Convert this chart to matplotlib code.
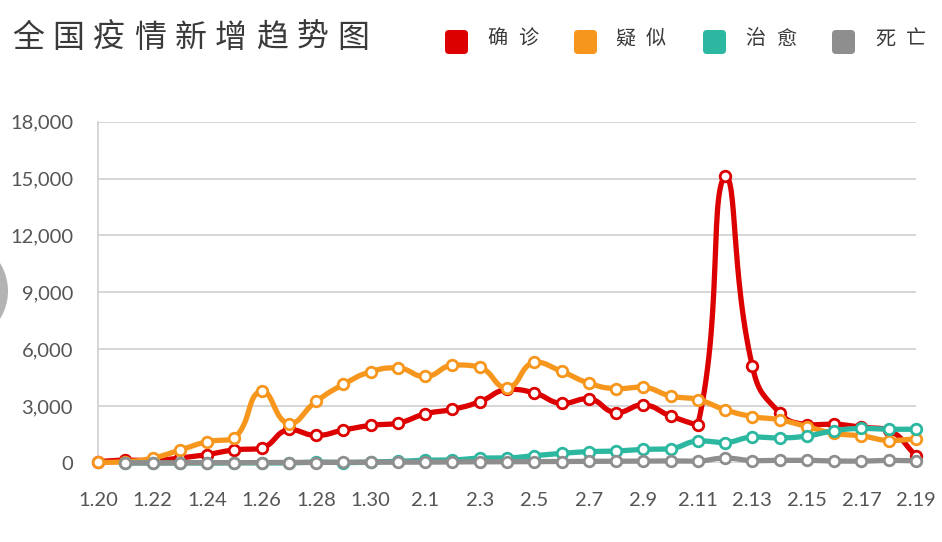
import matplotlib
matplotlib.use("Agg")
import matplotlib.pyplot as plt
import numpy as np
from matplotlib.patches import FancyBboxPatch, Circle

plt.rcParams['font.family'] = ['Noto Sans CJK SC', 'DejaVu Sans']

dates = ["1.20", "1.21", "1.22", "1.23", "1.24", "1.25", "1.26", "1.27", "1.28", "1.29",
         "1.30", "1.31", "2.1", "2.2", "2.3", "2.4", "2.5", "2.6", "2.7", "2.8",
         "2.9", "2.10", "2.11", "2.12", "2.13", "2.14", "2.15", "2.16", "2.17", "2.18", "2.19"]
confirmed = [77, 149, 131, 259, 444, 688, 769, 1771, 1459, 1737, 1982, 2102, 2590, 2829, 3235,
             3887, 3694, 3143, 3399, 2656, 3062, 2478, 2015, 15152, 5090, 2641, 2009, 2048,
             1886, 1749, 394]
suspected = [27, 60, 257, 680, 1118, 1309, 3806, 2077, 3248, 4148, 4812, 5019, 4562, 5173,
             5072, 3971, 5328, 4833, 4214, 3916, 4008, 3536, 3342, 2807, 2450, 2277, 1918,
             1563, 1432, 1185, 1277]
cured = [None, 0, 0, 0, 3, 11, 2, 9, 43, 21, 47, 85, 147, 157, 262, 261, 387, 510, 600, 632,
         716, 744, 1171, 1081, 1373, 1323, 1425, 1701, 1824, 1779, 1779]
deaths = [None, 3, 8, 8, 16, 15, 24, 26, 26, 38, 43, 46, 45, 57, 64, 65, 73, 73, 86, 89, 97,
          108, 97, 254, 121, 143, 142, 105, 98, 136, 114]

series_names = ["确诊", "疑似", "治愈", "死亡"]
colors = ["#dc0000", "#f7961c", "#2cb7a0", "#8e8e8e"]
yticks = [0, 3000, 6000, 9000, 12000, 15000, 18000]
title = "全国疫情新增趋势图"

W, H = 942, 542
fig = plt.figure(figsize=(W / 100, H / 100), dpi=100)

# overlay in pixel units for title / legend / decoration
ov = fig.add_axes([0, 0, 1, 1], zorder=-1)
ov.set_xlim(0, W)
ov.set_ylim(H, 0)
ov.axis("off")

ax = fig.add_axes([98 / W, 1 - 463 / H, (916 - 98) / W, (463 - 121.7) / H])
ax.patch.set_alpha(0)
ax.set_xlim(0, len(dates) - 1)
ax.set_ylim(0, 18000)
ax.set_yticks(yticks)
ax.set_yticklabels([f"{v:,}" for v in yticks])
ax.set_xticks(range(0, len(dates), 2))
ax.set_xticklabels(dates[::2])
for s in ["top", "right", "bottom"]:
    ax.spines[s].set_visible(False)
ax.spines["left"].set_color("#d0d0d0")
ax.spines["left"].set_linewidth(1.2)
ax.grid(axis="y", color="#d0d0d0", linewidth=1.2)
ax.set_axisbelow(True)
ax.tick_params(length=0, colors="#555555", labelsize=14.5)
ax.tick_params(axis="y", pad=18)
ax.tick_params(axis="x", pad=21)
for lab in ax.get_xticklabels() + ax.get_yticklabels():
    lab.set_fontfamily(["Lato", "DejaVu Sans"])

fig.canvas.draw()
tr = ax.transData
inv = tr.inverted()


def smooth_curve(xs, ys, s=0.5, n=30):
    pts = tr.transform(np.column_stack([xs, ys]))
    m = len(pts)
    cin = np.zeros_like(pts)
    cout = np.zeros_like(pts)
    for i in range(m):
        p = pts[i]
        pv = pts[i - 1] if i > 0 else p
        nx = pts[i + 1] if i < m - 1 else p
        v = nx - pv
        d0 = np.hypot(*(p - pv))
        d1 = np.hypot(*(p - nx))
        r = d1 / (d0 + d1) if d0 + d1 > 0 else 0.5
        ci = p - v * s * (1 - r)
        co = p + v * s * r
        ci[1] = np.clip(ci[1], min(p[1], pv[1]), max(p[1], pv[1]))
        co[1] = np.clip(co[1], min(p[1], nx[1]), max(p[1], nx[1]))
        cin[i] = ci
        cout[i] = co
    t = np.linspace(0, 1, n)[:, None]
    out = []
    for i in range(m - 1):
        p0, p1, p2, p3 = pts[i], cout[i], cin[i + 1], pts[i + 1]
        b = ((1 - t) ** 3) * p0 + 3 * ((1 - t) ** 2) * t * p1 + 3 * (1 - t) * t ** 2 * p2 + t ** 3 * p3
        out.append(b if i == 0 else b[1:])
    out = np.vstack(out)
    d = inv.transform(out)
    return d[:, 0], d[:, 1]


all_series = [confirmed, suspected, cured, deaths]
for k, (vals, col) in enumerate(zip(all_series, colors)):
    xs = [i for i, v in enumerate(vals) if v is not None]
    ys = [v for v in vals if v is not None]
    sx, sy = smooth_curve(xs, ys)
    ax.plot(sx, sy, color=col, linewidth=3.8, solid_capstyle="round",
            solid_joinstyle="round", zorder=3 + k, clip_on=False)
    ax.plot(xs, ys, linestyle="none", marker="o", markersize=7.6,
            markerfacecolor="white", markeredgecolor=col, markeredgewidth=2.0,
            zorder=3 + k, clip_on=False)


def spaced_text(x0, y, s, pitch, size, color):
    for i, ch in enumerate(s):
        ov.text(x0 + i * pitch, y, ch, fontsize=size, color=color,
                ha="left", va="center")


# Title
spaced_text(12, 38, title, 40.6, 23, "#3a3a3a")

# Legend
box_x = [445, 574, 703, 832]
text_x = [487, 615, 745, 875]
for bx, tx, name, col in zip(box_x, text_x, series_names, colors):
    ov.add_patch(FancyBboxPatch((bx, 30), 23, 24,
                                boxstyle="round,pad=0,rounding_size=4",
                                facecolor=col, edgecolor="none"))
    spaced_text(tx, 39, name, 31, 14.5, "#3a3a3a")

# left edge decoration circle
ov.add_patch(Circle((-45, 291), 53, facecolor="#b3b3b3", edgecolor="none"))

fig.savefig("out.png", dpi=100)
